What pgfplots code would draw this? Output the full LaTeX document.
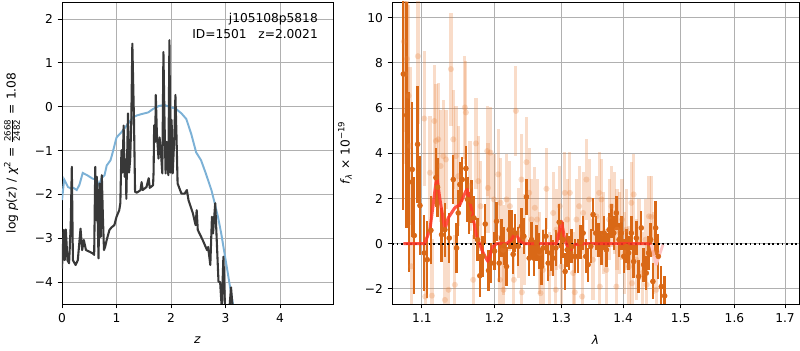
\documentclass[border=0pt]{standalone}
\usepackage{pgfplots}
\pgfplotsset{compat=1.18}
\usepackage{pgfplotstable}
\usepackage{fontspec}
\setmainfont{DejaVu Sans}
\definecolor{darkorg}{RGB}{217,104,22}
\definecolor{faintorg}{RGB}{232,130,60}
\definecolor{pzblue}{RGB}{124,177,214}
\definecolor{gridc}{RGB}{176,176,176}
\definecolor{modelred}{RGB}{255,55,40}
\definecolor{pinkred}{RGB}{255,195,195}

\pgfplotstableread{
l f e
1.0757 7.51 6.0
1.0800 5.69 5.0
1.0830 2.73 4.0
1.0873 3.29 3.0
1.0899 0.36 2.6
1.0943 4.40 2.6
1.0974 1.69 2.2
1.1031 -0.41 1.7
1.1070 -0.71 1.7
1.1119 0.59 1.5
1.1186 2.92 1.3
1.1208 2.50 1.3
1.1262 0.40 1.2
1.1307 0.62 1.2
1.1366 0.25 1.1
1.1421 2.84 1.1
1.1466 -0.19 1.1
1.1489 1.36 1.0
1.1512 2.62 1.0
1.1544 2.84 1.0
1.1595 3.33 1.0
1.1618 1.96 1.0
1.1642 1.36 0.95
1.1674 1.88 0.95
1.1707 1.14 0.95
1.1758 0.18 0.95
1.1791 -1.42 0.95
1.1829 -0.56 0.9
1.1867 0.87 0.9
1.1914 -1.19 0.9
1.1952 -0.86 0.9
1.2000 -0.33 0.85
1.2029 0.99 0.85
1.2067 -0.86 0.85
1.2101 0.25 0.85
1.2140 -0.09 0.85
1.2174 -1.01 0.85
1.2213 0.62 0.85
1.2247 0.62 0.85
1.2271 -0.47 0.85
1.2301 0.47 0.85
1.2345 -0.12 0.85
1.2394 0.77 0.8
1.2429 0.33 0.8
1.2469 2.07 0.8
1.2509 -0.64 0.8
1.2544 0.18 0.8
1.2579 -0.64 0.8
1.2619 0.03 0.8
1.2659 -0.34 0.8
1.2695 -1.01 0.8
1.2720 -0.19 0.8
1.2761 0.33 0.8
1.2797 -0.86 0.8
1.2838 -0.41 0.8
1.2874 -0.64 0.8
1.2915 -0.19 0.8
1.2967 0.95 0.8
1.2998 -0.09 0.8
1.3029 0.18 0.8
1.3060 -1.23 0.8
1.3092 -0.27 0.75
1.3123 -0.41 0.75
1.3160 -0.12 0.75
1.3212 -0.56 0.75
1.3265 -0.56 0.75
1.3302 0.06 0.75
1.3345 0.47 0.75
1.3387 -0.56 0.75
1.3425 -0.93 0.75
1.3468 -0.12 0.75
1.3505 1.29 0.75
1.3548 0.47 0.75
1.3592 0.18 0.75
1.3641 -0.19 0.75
1.3684 0.47 0.75
1.3723 -0.27 0.75
1.3767 0.62 0.75
1.3805 0.99 0.75
1.3844 0.47 0.75
1.3888 1.36 0.75
1.3932 0.18 0.75
1.3971 0.47 0.75
1.4010 -0.56 0.75
1.4055 -0.12 0.75
1.4094 -0.41 0.75
1.4139 0.47 0.75
1.4178 -0.79 0.75
1.4224 0.25 0.75
1.4264 -1.45 0.75
1.4309 0.70 0.75
1.4349 -0.93 0.75
1.4395 -1.30 0.75
1.4435 -0.41 0.75
1.4470 0.18 0.75
1.4510 -1.67 0.8
1.4557 0.70 1.2
1.4603 -0.56 1.0
1.4656 -1.90 0.9
1.4715 -2.31 0.9
}\darkdata

\pgfplotstableread{
l f e
1.0765 8.95 4.0
1.0783 7.51 4.0
1.0804 8.18 4.0
1.0826 6.55 4.0
1.0843 4.33 3.5
1.0860 -1.00 3.0
1.0947 8.30 3.0
1.1031 5.54 3.0
1.1044 -2.34 2.5
1.1106 3.14 2.5
1.1132 -2.30 2.5
1.1164 5.43 2.5
1.1186 4.55 2.5
1.1217 4.62 2.5
1.1249 3.44 2.5
1.1285 3.88 2.5
1.1307 -2.49 2.4
1.1321 3.73 2.2
1.1357 -2.04 2.2
1.1389 7.73 2.5
1.1421 4.62 2.2
1.1443 -1.82 2.2
1.1457 3.88 2.2
1.1489 2.99 2.2
1.1581 6.03 2.3
1.1595 5.81 2.3
1.1651 2.55 2.0
1.1697 -1.60 2.0
1.1735 4.44 2.0
1.1768 2.77 2.0
1.1801 1.66 2.0
1.1895 4.10 2.0
1.1905 2.47 2.0
1.1942 4.03 2.0
1.1991 1.96 2.0
1.2053 3.07 2.0
1.2078 -1.60 2.0
1.2087 1.81 2.0
1.2125 -0.27 2.0
1.2130 -2.04 2.0
1.2174 1.96 2.0
1.2223 1.66 2.0
1.2281 -1.60 2.0
1.2311 5.88 2.0
1.2345 0.47 2.0
1.2394 2.84 2.0
1.2400 -2.15 2.0
1.2444 0.18 2.0
1.2469 3.61 2.0
1.2509 2.25 2.0
1.2544 1.07 1.8
1.2594 1.59 1.8
1.2629 1.07 1.8
1.2670 -0.41 1.8
1.2680 -2.19 1.8
1.2720 -1.16 1.8
1.2771 2.43 1.8
1.2822 -1.30 1.8
1.2874 1.36 1.8
1.2915 -2.04 1.8
1.2925 0.62 1.8
1.2977 1.66 1.8
1.3003 -1.01 1.8
1.3055 2.25 1.8
1.3092 1.07 1.8
1.3134 2.25 1.8
1.3186 -1.30 1.8
1.3212 -2.15 1.8
1.3239 1.07 1.8
1.3281 1.66 1.8
1.3329 -2.34 1.8
1.3345 1.36 1.8
1.3398 2.84 1.8
1.3441 1.96 1.8
1.3505 -0.71 1.8
1.3559 1.21 1.8
1.3603 2.25 1.8
1.3614 -1.90 1.8
1.3641 1.96 1.8
1.3679 0.47 1.8
1.3723 -1.16 1.8
1.3767 1.07 1.8
1.3805 1.66 1.8
1.3860 1.36 1.8
1.3888 -1.90 1.8
1.3899 0.62 1.8
1.3943 0.47 1.8
1.3982 1.07 1.8
1.4027 -0.41 1.8
1.4055 0.62 1.8
1.4100 -1.01 1.8
1.4139 1.81 1.8
1.4150 -1.75 1.8
1.4178 2.18 1.8
1.4224 -0.71 1.8
1.4270 0.18 1.8
1.4327 -1.30 1.8
1.4384 0.18 1.8
1.4400 -1.82 1.8
1.4441 1.21 1.8
1.4481 1.19 1.8
1.4522 -0.41 1.8
1.4568 -2.04 1.8
}\faintdata

\begin{document}
\begin{tikzpicture}[font=\fontsize{8.8}{10.5}\selectfont]
\path[use as bounding box] (0,0) rectangle (576pt,252pt);
\pgfplotsset{
  myaxis/.style={
    scale only axis, anchor=south west, height=217.44pt,
    tick align=outside, tick pos=left, major tick length=3.1pt,
    axis line style={line width=0.7pt},
    every tick/.style={black, line width=0.7pt},
    xmajorgrids, ymajorgrids,
    grid style={gridc, line width=0.7pt},
    tick label style={font=\fontsize{8.8}{10.5}\selectfont},
    label style={font=\fontsize{8.8}{10.5}\selectfont},
    every axis x label/.style={at={(axis description cs:0.5,-0.119)}, anchor=center},
  }
}
% ---------------- left panel ----------------
\begin{axis}[myaxis,
  at={(44.64pt,33.12pt)}, width=195.12pt,
  xmin=0, xmax=4.97, ymin=-4.5, ymax=2.39,
  xtick={0,1,2,3,4}, xticklabels={0,1,2,3,4},
  ytick={-4,-3,-2,-1,0,1,2}, yticklabels={−4,−3,−2,−1,0,1,2},
  xlabel={\textit{z}},
  ylabel={log \textit{p}(\textit{z}) / \textit{χ}\textsuperscript{2} = \ensuremath{\frac{\hbox{\fontsize{6.2}{6.2}\selectfont 2668}}{\hbox{\fontsize{6.2}{6.2}\selectfont 2482}}} = 1.08},
  every axis y label/.style={at={(axis description cs:-0.1845,0.5)}, rotate=90, anchor=center},
]
\addplot[pzblue, line width=1.4pt] coordinates {
(0,-2.13) (0.04,-1.66) (0.11,-1.83) (0.17,-1.87) (0.21,-1.85) (0.27,-1.9) (0.32,-1.78)
(0.38,-1.51) (0.46,-1.56) (0.56,-1.64) (0.63,-1.66) (0.68,-1.79) (0.72,-1.64) (0.78,-1.56)
(0.82,-1.34) (0.89,-1.22) (0.93,-1.04) (1.0,-0.70) (1.09,-0.58) (1.21,-0.39) (1.30,-0.24)
(1.37,-0.20) (1.45,-0.17) (1.58,-0.13) (1.67,-0.05) (1.78,0.02) (1.88,0.04) (1.97,0.0)
(2.09,-0.05) (2.19,-0.15) (2.28,-0.28) (2.37,-0.62) (2.46,-1.04) (2.55,-1.22) (2.64,-1.53)
(2.74,-1.9) (2.80,-2.2) (2.86,-2.51) (2.92,-2.89) (2.98,-3.34) (3.04,-3.79) (3.10,-4.25) (3.15,-4.6)
};
\addplot[black!78, line width=1.5pt, line join=round] coordinates {
(0,-3.69) (0.03,-2.81) (0.05,-3.5) (0.07,-2.8) (0.10,-3.5) (0.13,-3.57) (0.16,-2.7) (0.18,-1.37)
(0.20,-3.5) (0.25,-3.61) (0.29,-3.5) (0.34,-2.78) (0.37,-3.27) (0.40,-3.04) (0.44,-3.27)
(0.51,-3.31) (0.57,-3.35) (0.59,-3.38) (0.61,-1.37) (0.63,-2.59) (0.64,-1.6) (0.66,-2.89)
(0.67,-3.46) (0.69,-1.75) (0.71,-2.97) (0.73,-1.56) (0.75,-2.51) (0.77,-3.27) (0.79,-3.2)
(0.82,-3.04) (0.87,-2.81) (0.91,-2.75) (0.96,-2.7) (1.0,-2.51) (1.05,-2.36) (1.07,-2.2)
(1.09,-0.99) (1.11,-1.5) (1.13,-0.43) (1.15,-1.6) (1.17,-1.2) (1.18,-2.1) (1.20,-0.8)
(1.21,-0.15) (1.23,-1.5) (1.25,-1.2) (1.27,-0.4) (1.29,1.44) (1.32,-0.3) (1.34,-1.94)
(1.37,-1.96) (1.42,-1.92) (1.44,-1.9) (1.46,-1.72) (1.48,-1.9) (1.55,-1.83) (1.59,-1.63)
(1.61,-1.85) (1.67,-1.79) (1.68,-1.48) (1.69,-0.42) (1.71,-0.8) (1.72,0.27) (1.74,-0.61)
(1.77,-1.18) (1.79,-0.7) (1.82,-1.15) (1.84,-1.52) (1.86,1.25) (1.88,-0.3) (1.90,-1.52)
(1.92,-0.8) (1.95,-1.56) (1.97,1.52) (1.99,-1.5) (2.01,-0.3) (2.03,-1.52) (2.06,-0.7)
(2.08,0.27) (2.10,-0.68) (2.12,-1.75) (2.19,-1.98) (2.25,-1.98) (2.29,-1.9) (2.32,-2.13)
(2.40,-2.43) (2.45,-2.7) (2.47,-2.36) (2.49,-2.81) (2.58,-3.04) (2.66,-3.27) (2.68,-3.2)
(2.72,-3.61) (2.75,-2.51) (2.77,-2.89) (2.81,-2.2) (2.83,-2.81) (2.87,-3.99) (2.90,-4.0)
(2.93,-4.6) (2.96,-3.42) (2.99,-4.6) (3.07,-4.6) (3.10,-4.12) (3.13,-4.6)
};
\node[anchor=north east, align=right, inner sep=0pt, font=\fontsize{8.8}{11.2}\selectfont]
  at (rel axis cs:0.945,0.963) {j105108p5818\\ID=1501\ \ \ z=2.0021};
\end{axis}
% ---------------- right panel ----------------
\begin{axis}[myaxis,
  at={(282.24pt,33.12pt)}, width=293.04pt,
  xmode=log, xmin=1.0612, xmax=1.7288, ymin=-2.67, ymax=10.7,
  xtick={1.1,1.2,1.3,1.4,1.5,1.6,1.7}, xticklabels={1.1,1.2,1.3,1.4,1.5,1.6,1.7},
  ytick={-2,0,2,4,6,8,10}, yticklabels={−2,0,2,4,6,8,10},
  xlabel={\textit{λ}},
  ylabel={\textit{f}\textsubscript{\textit{λ}} × 10\textsuperscript{−19}},
  every axis y label/.style={at={(axis description cs:-0.1155,0.5)}, rotate=90, anchor=center},
]
\addplot[color=faintorg, only marks, mark=*, mark size=2.2pt,
  mark options={solid, fill=faintorg, draw=faintorg, draw opacity=0, fill opacity=0.28},
  error bars/.cd, y dir=both, y explicit, error mark=none,
  error bar style={line width=2.3pt, color=faintorg, opacity=0.28}]
  table[x=l, y=f, y error=e] {\faintdata};
\addplot[color=darkorg, only marks, mark=*, mark size=1.8pt,
  mark options={solid, fill=darkorg, draw=darkorg},
  error bars/.cd, y dir=both, y explicit, error mark=none,
  error bar style={line width=1.7pt, color=darkorg}]
  table[x=l, y=f, y error=e] {\darkdata};
\addplot[black, line width=1.3pt, dash pattern=on 1.3pt off 2pt] coordinates {(1.0612,0) (1.7288,0)};
\addplot[modelred, opacity=0.85, line width=2.2pt, line join=round] coordinates {
(1.0757,0) (1.1035,0) (1.1106,0.62) (1.1197,2.99) (1.1240,1.96) (1.1307,0.62) (1.1351,1.14)
(1.1443,1.59) (1.1512,1.73) (1.1595,2.33) (1.1613,2.40) (1.1674,1.51) (1.1744,0.33)
(1.1838,-0.41) (1.1905,-0.79) (1.1977,-0.12) (1.2029,0) (1.2174,0) (1.2247,0.18) (1.2306,0.50)
(1.2370,0.1) (1.2444,0) (1.2925,0) (1.3003,0.99) (1.3055,0.18) (1.3123,-0.34) (1.3212,-0.04)
(1.3345,0) (1.4424,0) (1.4481,-0.04)
};
\addplot[pinkred, line width=2pt, line join=round] coordinates {
(1.4481,-0.04) (1.4568,-0.93) (1.4686,-0.04)
};
\node[font=\fontsize{4.5}{5}\selectfont, anchor=center] at (axis description cs:0.867,-0.116) {Fri Apr 24 16:55:50 2020};
\end{axis}
\end{tikzpicture}
\end{document}
